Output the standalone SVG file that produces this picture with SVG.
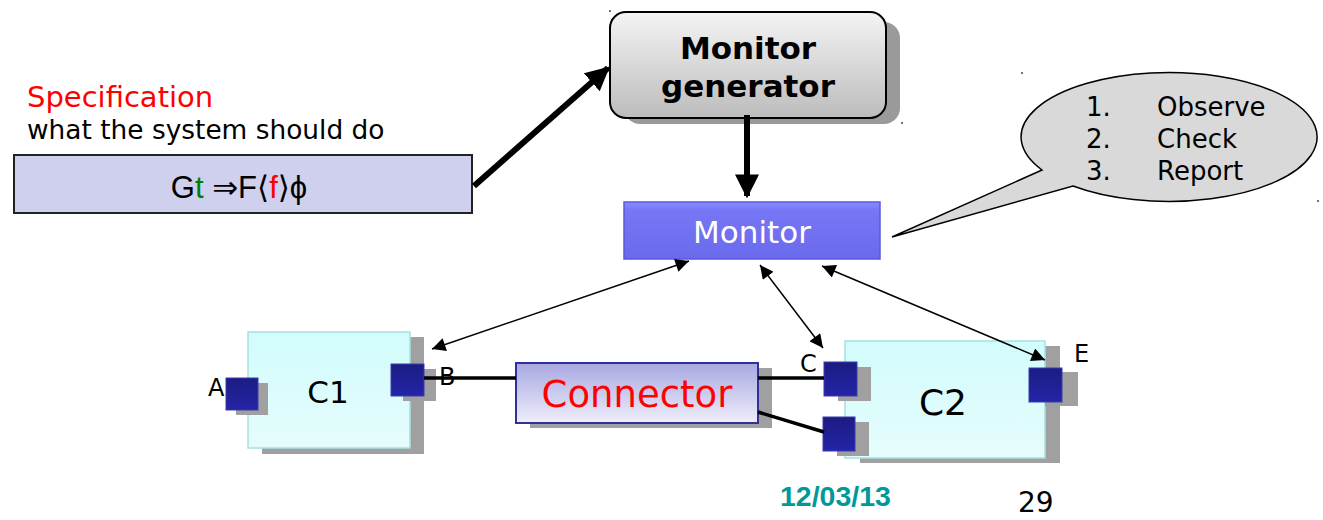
<svg xmlns="http://www.w3.org/2000/svg" width="1323" height="520" viewBox="0 0 1323 520">
<style>
.dv{font-family:"DejaVu Sans","Liberation Sans",sans-serif}
.ls{font-family:"Liberation Sans","DejaVu Sans",sans-serif}
.shadow{fill:#a0a0a0}
.port{fill:url(#gPort);stroke:#3a3ab0;stroke-width:1}
.comp{fill:url(#gComp);stroke:#a8e0e0;stroke-width:1.5}
.wire{stroke:#000;stroke-width:3.5;fill:none}
.thin{stroke:#000;stroke-width:1.5;fill:none;marker-start:url(#hS);marker-end:url(#hE)}
.thick{stroke:#000;stroke-width:6;fill:none;marker-end:url(#hBig)}
.lbl{font-size:24px;fill:#000}
</style>
<defs>
<linearGradient id="gGen" x1="0" y1="0" x2="0" y2="1"><stop offset="0" stop-color="#f4f4f4"/><stop offset="1" stop-color="#bcbcbc"/></linearGradient>
<linearGradient id="gMon" x1="0" y1="0" x2="0" y2="1"><stop offset="0" stop-color="#8a8aff"/><stop offset="0.15" stop-color="#7676f6"/><stop offset="1" stop-color="#6a6aec"/></linearGradient>
<linearGradient id="gConn" x1="0" y1="0" x2="0" y2="1"><stop offset="0" stop-color="#a8a8e2"/><stop offset="1" stop-color="#eeeefa"/></linearGradient>
<linearGradient id="gComp" x1="0" y1="0" x2="0" y2="1"><stop offset="0" stop-color="#d2fcfc"/><stop offset="1" stop-color="#e6fcfc"/></linearGradient>
<linearGradient id="gPort" x1="0" y1="0" x2="0" y2="1"><stop offset="0" stop-color="#1c1c82"/><stop offset="1" stop-color="#2424a8"/></linearGradient>
<marker id="hBig" viewBox="0 0 10 10" refX="9" refY="5" markerWidth="4" markerHeight="4" orient="auto" markerUnits="strokeWidth"><path d="M0,0 L10,5 L0,10 Z" fill="#000"/></marker>
<marker id="hE" viewBox="0 0 10 10" refX="10" refY="5" markerWidth="11" markerHeight="9" orient="auto" markerUnits="strokeWidth"><path d="M0,0 L10,5 L0,10 Z" fill="#000"/></marker>
<marker id="hS" viewBox="0 0 10 10" refX="0" refY="5" markerWidth="11" markerHeight="9" orient="auto" markerUnits="strokeWidth"><path d="M10,0 L0,5 L10,10 Z" fill="#000"/></marker>
</defs>
<rect width="1323" height="520" fill="#fff"/>

<g id="spec-label">
<text class="dv" x="27" y="107" font-size="29" fill="#ff0000">Specification</text>
<text class="dv" x="27" y="139" font-size="26.4" fill="#000">what the system should do</text>
</g>

<g id="spec">
<rect x="14" y="155" width="458" height="58" fill="#cfcfee" stroke="#222" stroke-width="2"/>
<text class="ls" x="239" y="198" font-size="31" text-anchor="middle" fill="#000">G<tspan fill="#008000">t</tspan> ⇒F⟨<tspan fill="#ff0000">f</tspan>⟩ϕ</text>
</g>

<g id="monitor-generator">
<rect x="624" y="22" width="276" height="102" rx="16" fill="#9a9a9a"/>
<rect x="610" y="12" width="276" height="106" rx="16" fill="url(#gGen)" stroke="#000" stroke-width="2"/>
<text class="dv" x="748" y="59" font-size="31" font-weight="bold" text-anchor="middle">Monitor</text>
<text class="dv" x="748" y="97" font-size="31" font-weight="bold" text-anchor="middle">generator</text>
</g>

<g id="monitor">
<rect x="624" y="202" width="256" height="57" fill="url(#gMon)" stroke="#5a5ad8" stroke-width="1.5"/>
<text class="dv" x="752" y="243" font-size="31" fill="#fff" text-anchor="middle">Monitor</text>
</g>

<g id="callout">
<path d="M1042,170 L892,237 L1073,186 A148 64.5 0 1 0 1042,170 Z" fill="#d9d9d9" stroke="#000" stroke-width="1.5"/>
<text class="dv" font-size="26" fill="#000">
<tspan x="1086" y="116">1.</tspan><tspan x="1157" y="116">Observe</tspan>
<tspan x="1086" y="148">2.</tspan><tspan x="1157" y="148">Check</tspan>
<tspan x="1086" y="180">3.</tspan><tspan x="1157" y="180">Report</tspan>
</text>
</g>

<g id="C1">
<rect x="262" y="337" width="162" height="117" class="shadow"/>
<rect x="248" y="332" width="162" height="116" class="comp"/>
<text class="dv" x="328" y="403" font-size="31" text-anchor="middle">C1</text>
</g>
<g id="portA">
<rect x="236" y="383" width="32" height="32" class="shadow"/>
<rect x="226" y="378" width="32" height="32" class="port"/>
<text class="dv lbl" x="208" y="396">A</text>
</g>
<g id="portB">
<rect x="403" y="369" width="33" height="32" class="shadow"/>
<rect x="391" y="364" width="33" height="32" class="port"/>
<text class="dv lbl" x="439" y="385">B</text>
</g>

<g id="connector">
<rect x="530" y="368" width="242" height="60" class="shadow"/>
<rect x="516" y="363" width="242" height="60" fill="url(#gConn)" stroke="#303098" stroke-width="2"/>
<text class="dv" x="637" y="407" font-size="37" fill="#ff0000" text-anchor="middle">Connector</text>
</g>

<g id="C2">
<rect x="860" y="346" width="200" height="117" class="shadow"/>
<rect x="845" y="341" width="200" height="117" class="comp"/>
<text class="dv" x="943" y="415" font-size="36" text-anchor="middle">C2</text>
</g>
<g id="portC">
<rect x="838" y="367" width="33" height="34" class="shadow"/>
<rect x="824" y="362" width="33" height="34" class="port"/>
<text class="dv lbl" x="800" y="372">C</text>
</g>
<g id="portD">
<rect x="837" y="422" width="32" height="34" class="shadow"/>
<rect x="823" y="417" width="32" height="34" class="port"/>
</g>
<g id="portE">
<rect x="1045" y="372" width="33" height="34" class="shadow"/>
<rect x="1029" y="368" width="33" height="34" class="port"/>
<text class="dv lbl" x="1074" y="362">E</text>
</g>

<g id="connectors">
<line class="thick" x1="474" y1="186" x2="608" y2="68"/>
<line class="thick" x1="747" y1="115" x2="747" y2="196"/>
<line class="wire" x1="424" y1="378" x2="516" y2="378"/>
<line class="wire" x1="758" y1="378" x2="824" y2="378"/>
<line class="wire" x1="758" y1="412" x2="824" y2="432"/>
<line class="thin" x1="689" y1="261" x2="432" y2="349"/>
<line class="thin" x1="760" y1="265" x2="823" y2="348"/>
<line class="thin" x1="822" y1="266" x2="1045" y2="360"/>
</g>

<g id="footer">
<text class="ls" x="780" y="506" font-size="28.5" font-weight="bold" fill="#009999">12/03/13</text>
<text class="dv" x="1018" y="512" font-size="28" fill="#000">29</text>
</g>
<g id="dots" fill="#444">
<circle cx="610" cy="11" r="1"/>
<circle cx="1022" cy="73" r="1"/>
<circle cx="902" cy="123" r="1"/>
<circle cx="1318" cy="201" r="1"/>
</g>
</svg>
